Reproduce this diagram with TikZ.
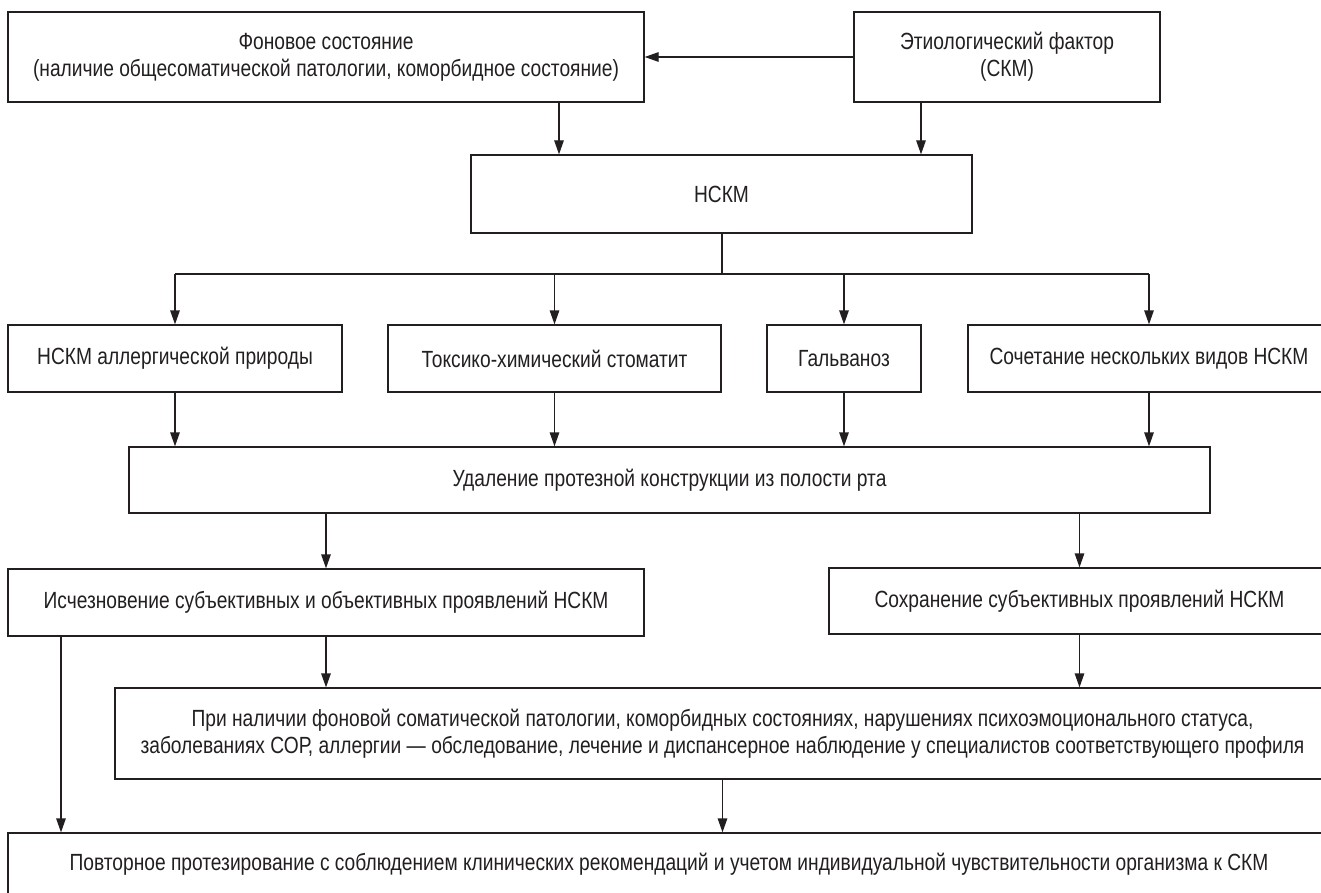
\documentclass[tikz,border=0pt]{standalone}
\usepackage{fontspec}
\setmainfont{Liberation Sans}[FakeStretch=0.82]
\usetikzlibrary{arrows.meta}
\definecolor{ink}{HTML}{231F20}
\tikzset{
  box/.style={draw=ink, line width=1.3pt, rectangle, inner sep=0pt, align=center,
    text=ink, font=\fontsize{23.4}{27}\selectfont},
  arr/.style={draw=ink, line width=1.3pt, -{Triangle[length=14pt,width=9.5pt]}},
  ln/.style={draw=ink, line width=1.3pt},
}
\begin{document}
\begin{tikzpicture}[x=1pt,y=-1pt]
\path[use as bounding box, fill=white] (0,0) rectangle (1321,893);
\clip (0,0) rectangle (1321,893);
\node[box, minimum width=636pt, minimum height=90pt] (fon) at (326,57)
  {Фоновое состояние\\(наличие общесоматической патологии, коморбидное состояние)};
\node[box, minimum width=306pt, minimum height=90pt] (etio) at (1007,57)
  {Этиологический фактор\\(СКМ)};
\node[box, minimum width=501pt, minimum height=78pt] (nskm) at (721.5,194) {НСКМ};
\node[box, minimum width=334pt, minimum height=67pt] (a) at (175,358.5) {НСКМ аллергической природы};
\node[box, minimum width=333pt, minimum height=67pt] (b) at (554.5,358.5) {Токсико-химический стоматит};
\node[box, minimum width=154pt, minimum height=67pt] (c) at (844,358.5) {Гальваноз};
\node[box, minimum width=362pt, minimum height=67pt] (d) at (1149,358.5) {Сочетание нескольких видов НСКМ};
\node[box, minimum width=1081pt, minimum height=66pt] (udal) at (669.5,480) {Удаление протезной конструкции из полости рта};
\node[box, minimum width=636pt, minimum height=67pt] (isch) at (326,602.5) {Исчезновение субъективных и объективных проявлений НСКМ};
\node[box, minimum width=501pt, minimum height=66pt] (sohr) at (1079.5,601) {Сохранение субъективных проявлений НСКМ};
\node[box, minimum width=1215pt, minimum height=91pt] (pri) at (722.5,733.5)
  {При наличии фоновой соматической патологии, коморбидных состояниях, нарушениях психоэмоционального статуса,\\заболеваниях СОР, аллергии — обследование, лечение и диспансерное наблюдение у специалистов соответствующего профиля};
\node[box, minimum width=1322pt, minimum height=62pt] (povt) at (669,864)
  {Повторное протезирование с соблюдением клинических рекомендаций и учетом индивидуальной чувствительности организма к СКМ};
\coordinate (x1) at (559,0);
\coordinate (x2) at (921,0);
\coordinate (x3) at (61,0);
\coordinate (br) at (722,274);
% top
\draw[arr] (etio.west) -- (fon.east);
\draw[arr] (fon.south -| x1) -- (nskm.north -| x1);
\draw[arr] (etio.south -| x2) -- (nskm.north -| x2);
% branching
\draw[ln] (nskm.south -| br) -- (br);
\draw[ln] (br -| a.north) -- (br -| d.north);
\draw[arr] (br -| a.north) -- (a.north);
\draw[arr] (br -| b.north) -- (b.north);
\draw[arr] (br -| c.north) -- (c.north);
\draw[arr] (br -| d.north) -- (d.north);
% to udal
\draw[arr] (a.south) -- (udal.north -| a.south);
\draw[arr] (b.south) -- (udal.north -| b.south);
\draw[arr] (c.south) -- (udal.north -| c.south);
\draw[arr] (d.south) -- (udal.north -| d.south);
% from udal
\draw[arr] (udal.south -| isch.north) -- (isch.north);
\draw[arr] (udal.south -| sohr.north) -- (sohr.north);
% to pri
\draw[arr] (isch.south) -- (pri.north -| isch.south);
\draw[arr] (sohr.south) -- (pri.north -| sohr.south);
% to povt
\draw[arr] (isch.south -| x3) -- (povt.north -| x3);
\draw[arr] (pri.south) -- (povt.north -| pri.south);
\end{tikzpicture}
\end{document}
